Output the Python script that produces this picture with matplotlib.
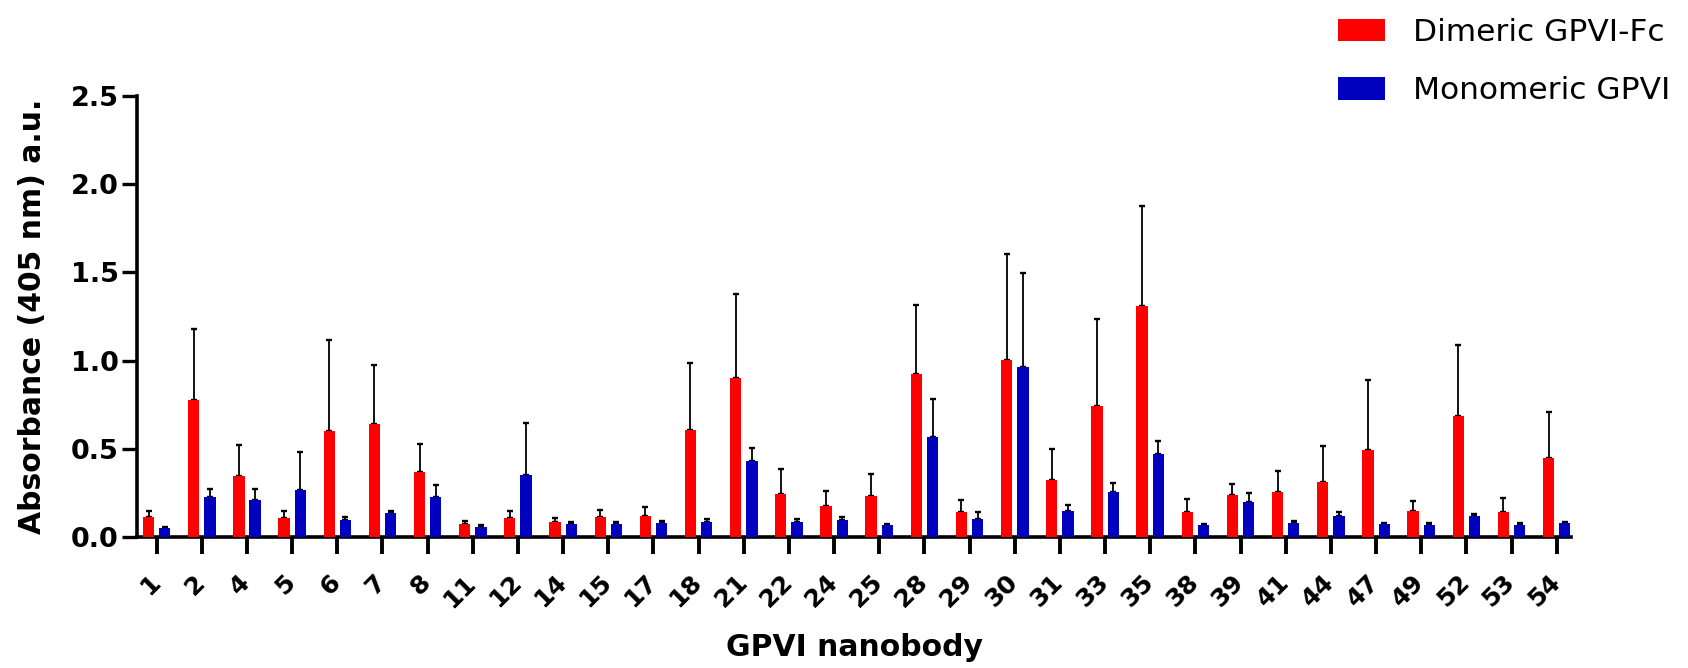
import matplotlib
matplotlib.use('Agg')
import matplotlib.pyplot as plt
import matplotlib.transforms as mtransforms
import numpy as np

# nanobody ids on the x axis
nanobodies = ['1', '2', '4', '5', '6', '7', '8', '11', '12', '14', '15', '17', '18', '21', '22', '24',
              '25', '28', '29', '30', '31', '33', '35', '38', '39', '41', '44', '47', '49', '52', '53', '54']

# mean absorbance, dimeric GPVI-Fc
dimeric_mean = [0.113, 0.775, 0.344, 0.108, 0.600, 0.639, 0.367, 0.072, 0.108, 0.087, 0.112, 0.117,
                0.605, 0.902, 0.244, 0.178, 0.231, 0.923, 0.140, 1.002, 0.321, 0.743, 1.312, 0.140,
                0.236, 0.257, 0.310, 0.495, 0.149, 0.685, 0.140, 0.448]
dimeric_sd = [0.036, 0.405, 0.178, 0.041, 0.514, 0.335, 0.163, 0.019, 0.040, 0.023, 0.043, 0.055,
              0.382, 0.477, 0.140, 0.083, 0.128, 0.391, 0.072, 0.604, 0.176, 0.490, 0.562, 0.076,
              0.067, 0.117, 0.204, 0.394, 0.053, 0.402, 0.081, 0.261]

# mean absorbance, monomeric GPVI
monomeric_mean = [0.049, 0.225, 0.208, 0.265, 0.095, 0.136, 0.225, 0.059, 0.354, 0.074, 0.072, 0.078,
                  0.087, 0.429, 0.087, 0.095, 0.066, 0.569, 0.104, 0.964, 0.146, 0.253, 0.469, 0.066,
                  0.199, 0.078, 0.117, 0.074, 0.066, 0.117, 0.070, 0.078]
monomeric_sd = [0.008, 0.049, 0.066, 0.219, 0.020, 0.013, 0.068, 0.007, 0.295, 0.011, 0.011, 0.013,
                0.015, 0.074, 0.013, 0.020, 0.010, 0.212, 0.036, 0.534, 0.036, 0.053, 0.076, 0.010,
                0.053, 0.013, 0.023, 0.005, 0.013, 0.012, 0.008, 0.007]

red = '#FF0000'
blue = '#0000BF'

plt.rcParams['font.family'] = ['DejaVu Sans']

fig = plt.figure(figsize=(16.88, 6.68), dpi=100)
ax = fig.add_axes([137 / 1688, 131 / 668, 1434 / 1688, 441 / 668])

x = np.arange(len(nanobodies))
w = 0.25
off = 0.18

b1 = ax.bar(x - off, dimeric_mean, w, color=red, zorder=3, label='Dimeric GPVI-Fc')
b2 = ax.bar(x + off, monomeric_mean, w, color=blue, zorder=3, label='Monomeric GPVI')

# upper error bars only (lower half hidden behind the bars)
ax.errorbar(x - off, dimeric_mean, yerr=[np.zeros(len(x)), dimeric_sd], fmt='none',
            ecolor='black', elinewidth=1.3, capsize=2, capthick=1.7, zorder=2)
ax.errorbar(x + off, monomeric_mean, yerr=[np.zeros(len(x)), monomeric_sd], fmt='none',
            ecolor='black', elinewidth=1.3, capsize=2, capthick=1.7, zorder=2)

ax.set_xlim(-0.436, len(x) - 1 + 0.317)
ax.set_ylim(0, 2.5)
ax.set_yticks([0, 0.5, 1.0, 1.5, 2.0, 2.5])
ax.set_yticklabels(['0.0', '0.5', '1.0', '1.5', '2.0', '2.5'])
ax.set_xticks(x)
ax.set_xticklabels(nanobodies, rotation=45, ha='right', va='top')

for s in ['top', 'right']:
    ax.spines[s].set_visible(False)
for s in ['left', 'bottom']:
    ax.spines[s].set_linewidth(2.6)

ax.tick_params(axis='y', length=11, width=2.4, pad=2, labelsize=19.5)
ax.tick_params(axis='x', length=12, width=2.8, pad=12, labelsize=18)
for lab in ax.get_xticklabels() + ax.get_yticklabels():
    lab.set_fontweight('bold')

# nudge rotated labels so their right end sits just past the tick
shift = mtransforms.ScaledTranslation(8 / 100, 0, fig.dpi_scale_trans)
for lab in ax.get_xticklabels():
    lab.set_transform(lab.get_transform() + shift)

ax.set_ylabel('Absorbance (405 nm) a.u.', fontsize=21.5, fontweight='bold')
ax.yaxis.set_label_coords(-0.0628, 0.5)
ax.set_xlabel('GPVI nanobody', fontsize=21.5, fontweight='bold')
ax.xaxis.set_label_coords(0.5, -0.2166)

fig.legend(handles=[b1, b2], loc='upper left', bbox_to_anchor=(1338 / 1688, 1 - 18 / 668),
           frameon=False, fontsize=22.5, borderpad=0, borderaxespad=0, handlelength=1.5,
           handleheight=0.74, handletextpad=0.89, labelspacing=0.93)

fig.savefig('out.png', dpi=100)
